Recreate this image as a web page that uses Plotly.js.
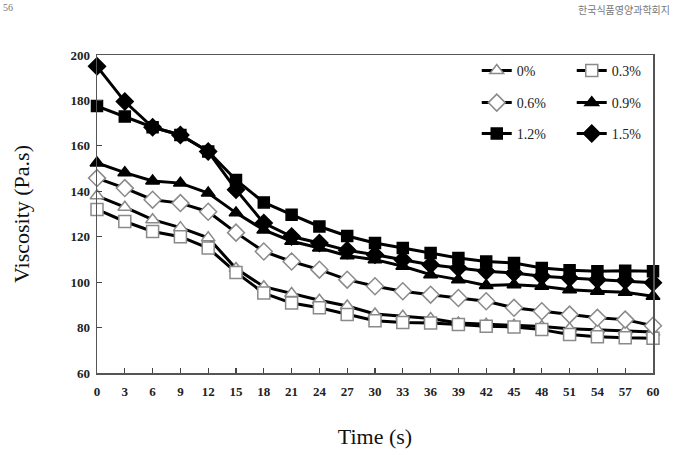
<!DOCTYPE html>
<html>
<head>
<meta charset="utf-8">
<script src="https://cdn.plot.ly/plotly-3.0.1.min.js"></script>
<style>
  html, body { margin: 0; padding: 0; background: #fff; }
  #chart { width: 679px; height: 455px; }
</style>
</head>
<body>
<div id="chart"></div>
<script>
// Shear time (s)
const time = [0, 3, 6, 9, 12, 15, 18, 21, 24, 27, 30, 33, 36, 39, 42, 45, 48, 51, 54, 57, 60];

// Apparent viscosity (Pa.s) for each additive level
const visc0   = [138, 133, 127.5, 124, 119.5, 106, 98, 95, 92, 89.5, 86, 85, 84, 82, 81.5, 81, 80.5, 79.5, 79, 78.5, 78];
const visc03  = [132, 126.7, 122.3, 120, 115, 104.3, 95.2, 90.8, 88.7, 85.7, 83, 82.2, 82, 81.3, 80.6, 80.3, 79.1, 77, 76, 75.5, 75.3];
const visc06  = [145.8, 141.4, 136.3, 134.8, 131, 121.8, 113.5, 109.1, 105.5, 101.1, 98.2, 96, 94.5, 93, 91.6, 88.7, 87.2, 85.7, 84.3, 83.5, 80.8];
const visc09  = [152.5, 148.2, 144.5, 143.6, 139.2, 130.5, 123, 118, 115, 111.6, 109.9, 107, 103.3, 101.1, 98.5, 98.9, 98.2, 96.7, 96, 95.5, 93.8];
const visc12  = [177.5, 172.9, 168.2, 164.8, 157.5, 145, 135.1, 129.7, 124.5, 120.3, 117.2, 115, 112.8, 110.6, 109.1, 108.4, 106.2, 105.2, 104.8, 105, 104.8];
const visc15  = [195, 179.5, 168.2, 164.8, 157.5, 140.7, 126, 120.1, 117.2, 114, 112.1, 109.9, 107.7, 106.2, 104.8, 104, 102.6, 101.8, 101.1, 100.7, 99.7];

const seriesNames = ['0%', '0.3%', '0.6%', '0.9%', '1.2%', '1.5%'];
const seriesValues = [visc0, visc03, visc06, visc09, visc12, visc15];

const xTicks = time;
const yTicks = [60, 80, 100, 120, 140, 160, 180, 200];

// marker style per series: symbol, fill, outline, size
const markerStyles = [
  { symbol: 'triangle-up', color: '#ffffff', line: '#8a8a8a', size: 12 },
  { symbol: 'square',      color: '#ffffff', line: '#8a8a8a', size: 12 },
  { symbol: 'diamond',     color: '#ffffff', line: '#8a8a8a', size: 13 },
  { symbol: 'triangle-up', color: '#000000', line: '#000000', size: 12 },
  { symbol: 'square',      color: '#000000', line: '#000000', size: 11 },
  { symbol: 'diamond',     color: '#000000', line: '#000000', size: 13 }
];
const legendIds = ['legend', 'legend', 'legend2', 'legend2', 'legend3', 'legend3'];

const traces = seriesNames.map((name, i) => ({
  type: 'scatter',
  mode: 'lines+markers',
  name: name,
  x: time,
  y: seriesValues[i],
  legend: legendIds[i],
  line: { color: '#000000', width: 3 },
  marker: {
    symbol: markerStyles[i].symbol,
    size: markerStyles[i].size,
    color: markerStyles[i].color,
    line: { color: markerStyles[i].line, width: 1.5 }
  },
  cliponaxis: false
}));

const serif = 'Liberation Serif, Times New Roman, serif';
const legendBase = {
  orientation: 'h',
  xanchor: 'left',
  yanchor: 'middle',
  x: 0.683,
  bgcolor: 'rgba(0,0,0,0)',
  borderwidth: 0,
  entrywidth: 50,
  entrywidthmode: 'pixels',
  itemclick: false,
  font: { family: serif, size: 14, color: '#222' }
};

const layout = {
  width: 679,
  height: 455,
  margin: { l: 97, r: 19, t: 55, b: 82 },
  paper_bgcolor: '#ffffff',
  plot_bgcolor: '#ffffff',
  showlegend: true,
  legend:  Object.assign({}, legendBase, { y: 0.950 }),
  legend2: Object.assign({}, legendBase, { y: 0.849 }),
  legend3: Object.assign({}, legendBase, { y: 0.752 }),
  xaxis: {
    range: [0, 60],
    tickmode: 'array',
    tickvals: xTicks,
    ticktext: xTicks.map(String),
    ticks: 'inside',
    ticklen: 5,
    tickcolor: '#444',
    tickwidth: 1.2,
    ticklabelstandoff: 6,
    showline: true,
    linecolor: '#555',
    linewidth: 1.5,
    mirror: true,
    showgrid: false,
    zeroline: false,
    tickfont: { family: serif, size: 13, color: '#222', weight: 'bold' },
    title: { text: 'Time (s)', font: { family: serif, size: 22, color: '#111' }, standoff: 30 }
  },
  yaxis: {
    range: [60, 200],
    tickmode: 'array',
    tickvals: yTicks,
    ticktext: yTicks.map(String),
    ticks: 'inside',
    ticklen: 5,
    tickcolor: '#444',
    tickwidth: 1.2,
    ticklabelstandoff: 3,
    showline: true,
    linecolor: '#555',
    linewidth: 1.5,
    mirror: true,
    showgrid: false,
    zeroline: false,
    tickfont: { family: serif, size: 13, color: '#222', weight: 'bold' },
    title: { text: 'Viscosity (Pa.s)', font: { family: serif, size: 22, color: '#111' }, standoff: 34 }
  },
  annotations: [
    { text: '56', xref: 'paper', yref: 'paper', x: -0.172, y: 1.172, xanchor: 'left', yanchor: 'top',
      showarrow: false, font: { family: serif, size: 10, color: '#777' } },
    { text: '한국식품영양과학회지', xref: 'paper', yref: 'paper', x: 1.034, y: 1.172, xanchor: 'right', yanchor: 'top',
      showarrow: false, font: { family: 'Noto Sans CJK KR', size: 10, color: '#777' } }
  ]
};

Plotly.newPlot('chart', traces, layout, { displayModeBar: false, staticPlot: true });
</script>
</body>
</html>
